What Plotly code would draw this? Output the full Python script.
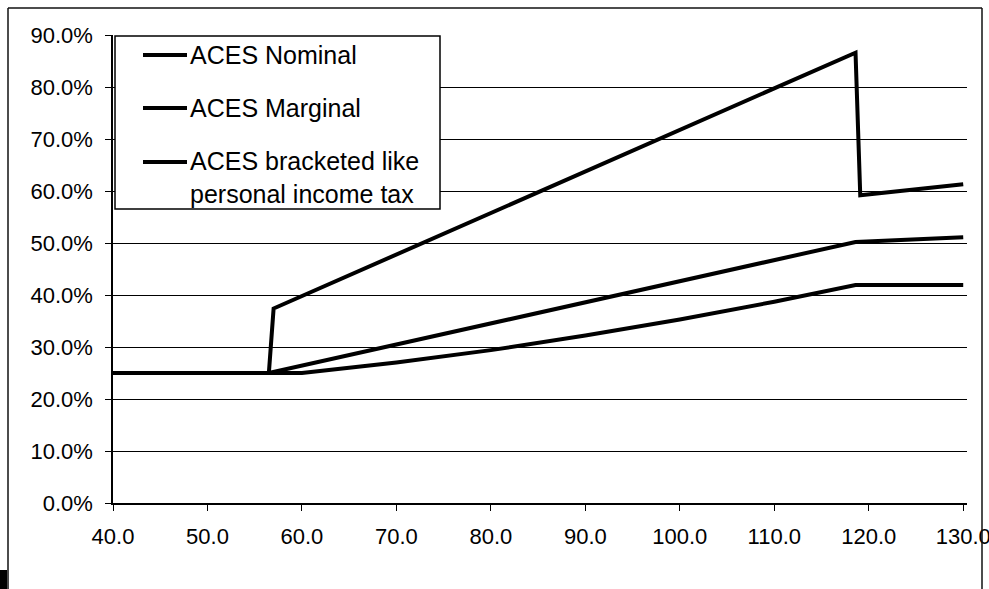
import plotly.graph_objects as go

# Effective tax rate (%) against income (thousands)
nominal_x = [40.0, 56.5, 57.0, 118.6, 119.1, 130.0]
nominal_y = [25.0, 25.0, 37.4, 86.6, 59.2, 61.3]

marginal_x = [40.0, 56.5, 118.6, 130.0]
marginal_y = [25.0, 25.0, 50.2, 51.1]

bracket_x = [40.0, 60.0, 70.0, 80.0, 90.0, 100.0, 110.0, 118.6, 130.0]
bracket_y = [25.0, 25.0, 27.0, 29.4, 32.2, 35.3, 38.7, 41.9, 41.9]

series_names = ["ACES Nominal", "ACES Marginal", "ACES bracketed like<br>personal income tax"]

x_ticks = [40, 50, 60, 70, 80, 90, 100, 110, 120, 130]
y_ticks = [0, 10, 20, 30, 40, 50, 60, 70, 80, 90]

W, H = 989, 589
ML, MR, MT, MB = 113, 22, 35, 86
FONT = "Liberation Sans, Arial, sans-serif"

fig = go.Figure()
for xs, ys, name in [(nominal_x, nominal_y, series_names[0]),
                     (marginal_x, marginal_y, series_names[1]),
                     (bracket_x, bracket_y, series_names[2])]:
    fig.add_trace(go.Scatter(
        x=xs, y=ys, mode="lines", name=name,
        line=dict(color="black", width=4),
        hoverinfo="skip", showlegend=False,
    ))

pw = W - ML - MR
ph = H - MT - MB


def px_x(p):
    return (p - ML) / pw


def px_y(p):
    return (H - MB - p) / ph


# outer chart frame and corner mark
frame = dict(color="#111", width=1.5)
shapes = [
    dict(type="line", xref="paper", yref="paper", x0=px_x(8), x1=px_x(8), y0=px_y(8), y1=px_y(H), line=frame),
    dict(type="line", xref="paper", yref="paper", x0=px_x(8), x1=px_x(982), y0=px_y(8), y1=px_y(8), line=frame),
    dict(type="line", xref="paper", yref="paper", x0=px_x(982), x1=px_x(982), y0=px_y(8), y1=px_y(H), line=frame),
    dict(type="rect", xref="paper", yref="paper", x0=px_x(0), x1=px_x(7), y0=px_y(570), y1=px_y(H),
         fillcolor="black", line=dict(width=0)),
]

# legend box with line samples
LEG_L, LEG_R, LEG_T, LEG_B = 115, 440, 36, 209
shapes.append(dict(type="rect", xref="paper", yref="paper",
                   x0=px_x(LEG_L), x1=px_x(LEG_R), y0=px_y(LEG_T), y1=px_y(LEG_B),
                   fillcolor="white", line=dict(color="black", width=1.5)))
sample_rows = [55, 108, 162]
text_rows = [55, 108, 177]
annotations = []
for row, trow, name in zip(sample_rows, text_rows, series_names):
    shapes.append(dict(type="line", xref="paper", yref="paper",
                       x0=px_x(143), x1=px_x(187), y0=px_y(row), y1=px_y(row),
                       line=dict(color="black", width=4)))
    annotations.append(dict(xref="paper", yref="paper", x=px_x(188), y=px_y(trow),
                            xanchor="left", yanchor="middle", align="left",
                            text=name, showarrow=False,
                            font=dict(family=FONT, size=25, color="black")))

fig.update_layout(
    width=W, height=H,
    margin=dict(l=ML, r=MR, t=MT, b=MB, autoexpand=False),
    paper_bgcolor="white", plot_bgcolor="white",
    font=dict(family=FONT, size=22, color="black"),
    showlegend=False,
    shapes=shapes,
    annotations=annotations,
    xaxis=dict(
        range=[40, 130.4], tickmode="array", tickvals=x_ticks,
        ticktext=[f"{v:.1f}" for v in x_ticks],
        showgrid=False, zeroline=False, automargin=False,
        showline=True, linecolor="black", linewidth=1.5,
        ticks="outside", ticklen=6, tickcolor="black", tickwidth=1,
        tickfont=dict(family=FONT, size=22, color="black"),
        ticklabelstandoff=7, ticklabeloverflow="allow",
        fixedrange=True,
    ),
    yaxis=dict(
        range=[0, 90], tickmode="array", tickvals=y_ticks,
        ticktext=[f"{v:.1f}%" for v in y_ticks],
        showgrid=True, gridcolor="black", gridwidth=1,
        zeroline=False, automargin=False,
        showline=True, linecolor="black", linewidth=1.5,
        ticks="outside", ticklen=6, tickcolor="black", tickwidth=1,
        tickfont=dict(family=FONT, size=22, color="black"),
        ticklabelstandoff=8,
        fixedrange=True,
    ),
)

fig.write_html("out.html")
